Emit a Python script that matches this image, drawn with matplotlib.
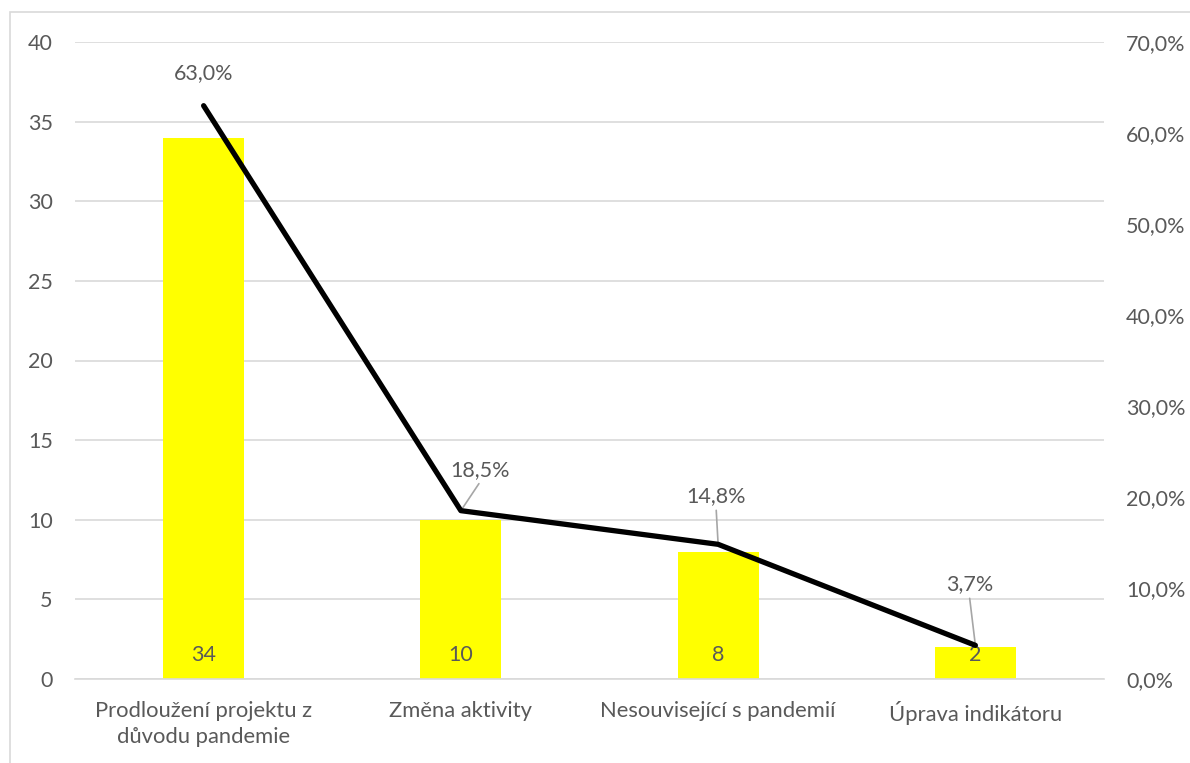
import numpy as np
import matplotlib.pyplot as plt
import matplotlib.transforms as mtransforms
from matplotlib.patches import Rectangle
from matplotlib.ticker import FuncFormatter

plt.rcParams['font.family'] = ['Lato', 'DejaVu Sans']

# data
kategorie = ['Prodloužení projektu z\ndůvodu pandemie', 'Změna aktivity',
             'Nesouvisející s pandemií', 'Úprava indikátoru']
pocty = [34, 10, 8, 2]
podily = [0.63, 0.185, 0.148, 0.037]
podil_popisky = ['63,0%', '18,5%', '14,8%', '3,7%']

seda = '#595959'
fs = 15.5
x = np.arange(len(kategorie))

fig = plt.figure(figsize=(11.9, 7.63), dpi=100)
ax = fig.add_axes([75/1190, 1 - 679/763, 1029/1190, 637/763])
ax2 = ax.twinx()

ax.bar(x, pocty, width=0.315, color='#FFFF00', zorder=2)
ax.set_xlim(-0.5, len(kategorie) - 0.5)
ax.set_ylim(0, 40)
ax.set_yticks(range(0, 41, 5))
ax.grid(axis='y', color='#D9D9D9', lw=1.2, zorder=0)
ax.set_axisbelow(True)
for i, v in enumerate(pocty):
    ax.text(x[i], 1.5, str(v), ha='center', va='center', fontsize=fs, color=seda, zorder=5)

ax2.plot(x, podily, color='black', lw=3.8, solid_capstyle='round', solid_joinstyle='round', zorder=4)
ax2.set_ylim(0, 0.7)
ax2.set_yticks(np.arange(0, 0.71, 0.1))
ax2.yaxis.set_major_formatter(FuncFormatter(lambda v, p: f'{v*100:.1f}%'.replace('.', ',')))

# popisky procent (posun v pixelech)
posuny = [(0, 33), (19, 41), (-2, 48), (-6, 61)]
for i, (p, t) in enumerate(zip(podily, podil_popisky)):
    dx, dy = posuny[i]
    ax2.annotate(t, (x[i], p), xytext=(dx, dy), textcoords='offset pixels',
                 ha='center', va='center', fontsize=fs, color=seda)
    if i > 0:
        ax2.annotate('', (x[i], p), xytext=(dx * 0.95, dy - 14), textcoords='offset pixels',
                     arrowprops=dict(arrowstyle='-', color='#A6A6A6', lw=1.2, shrinkA=0, shrinkB=0))

ax.set_xticks(x)
ax.set_xticklabels(kategorie, fontsize=15.8, color=seda, linespacing=1.34)
# "Ú" ma vyssi akcent, posunout trochu nahoru
posl = ax.get_xticklabels()[-1]
posl.set_transform(posl.get_transform() + mtransforms.ScaledTranslation(0, 4/100, fig.dpi_scale_trans))
for a in (ax, ax2):
    for s in a.spines.values():
        s.set_visible(False)
    a.tick_params(length=0, labelsize=fs, labelcolor=seda)
ax.tick_params(axis='x', labelsize=15.8, pad=16)
ax.tick_params(axis='y', pad=16)
ax2.tick_params(axis='y', pad=16)
ax.spines['bottom'].set_visible(True)
ax.spines['bottom'].set_color('#D9D9D9')
ax.spines['bottom'].set_linewidth(1.2)

fig.patches.append(Rectangle((10/1190, -0.1), 1.2, 1 - 12/763 + 0.1, transform=fig.transFigure,
                             fill=False, edgecolor='#D9D9D9', lw=1.2))

fig.savefig('out.png', dpi=100)
